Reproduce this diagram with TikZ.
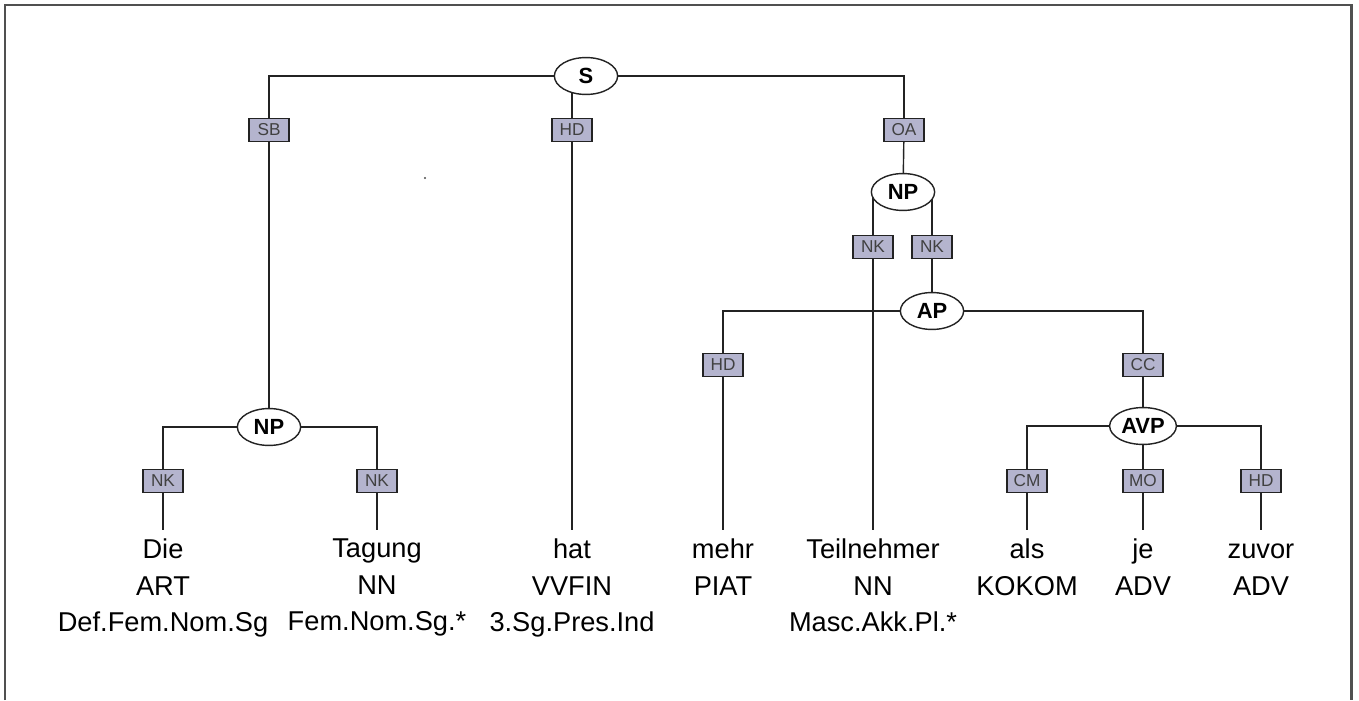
\documentclass[tikz,border=0pt]{standalone}
\usepackage{fontspec}
\setmainfont{Liberation Sans}
\usetikzlibrary{shapes,positioning,calc}
\definecolor{labelcolor}{RGB}{180,180,206}
\definecolor{bordercolor}{RGB}{35,35,35}
\definecolor{labeltextcolor}{RGB}{65,65,65}
\definecolor{framecolor}{RGB}{80,80,80}
\pgfdeclarelayer{background}
\pgfsetlayers{background,main}
\tikzset{
    catnode/.style={
        ellipse,
        draw=bordercolor,
        fill=white,
        line width=0.8pt,
        minimum width=36pt,
        minimum height=21pt,
        inner sep=0pt,
        font=\fontsize{12.5}{14}\selectfont\bfseries
    },
    widecat/.style={catnode, minimum width=38pt},
    edgelabel/.style={
        rectangle,
        draw=bordercolor,
        fill=labelcolor,
        line width=0.9pt,
        minimum width=22.8pt,
        minimum height=13pt,
        inner sep=0pt,
        text=labeltextcolor,
        font=\fontsize{9.8}{11}\selectfont
    },
    word/.style={
        anchor=north,
        align=center,
        inner sep=5pt,
        font=\fontsize{15.5}{20.8}\selectfont
    },
    branch/.style={draw=bordercolor, line width=0.8pt}
}

\begin{document}
\begin{tikzpicture}[x=0.02cm, y=-0.02cm]
    \useasboundingbox (0,0) rectangle (1359,700);
    \draw[framecolor, line width=1.7pt] (5,700) -- (5,5) -- (1351,5) -- (1351,700);
    \fill[black!70] (425,178) circle (1.2);

    % Root
    \node[catnode] (S) at (586,76) {S};
    \node[edgelabel] (sb) at (269,130) {SB};
    \node[edgelabel] (hd1) at (572,130) {HD};
    \node[edgelabel] (oa) at (904,130) {OA};

    % Subject NP
    \node[catnode] (np1) at (269,427) {NP};
    \node[edgelabel] (nk1) at (163,481) {NK};
    \node[edgelabel] (nk2) at (377,481) {NK};

    % Object NP
    \node[catnode] (np2) at (903,192) {NP};
    \node[edgelabel] (nk3) at (873,247) {NK};
    \node[edgelabel] (nk4) at (932,247) {NK};
    \node[catnode] (ap) at (932,311) {AP};
    \node[edgelabel] (hd2) at (723,365) {HD};
    \node[edgelabel] (cc) at (1143,365) {CC};
    \node[widecat] (avp) at (1143,426) {AVP};
    \node[edgelabel] (cm) at (1027,481) {CM};
    \node[edgelabel] (mo) at (1143,481) {MO};
    \node[edgelabel] (hd3) at (1261,481) {HD};

    % Words
    \node[word] (die) at (163,530) {Die\\ART\\Def.Fem.Nom.Sg};
    \node[word] (tagung) at (377,530) {Tagung\\NN\\Fem.Nom.Sg.*};
    \node[word] (hat) at (572,530) {hat\\VVFIN\\3.Sg.Pres.Ind};
    \node[word] (mehr) at (723,530) {mehr\\PIAT};
    \node[word] (teilnehmer) at (873,530) {Teilnehmer\\NN\\Masc.Akk.Pl.*};
    \node[word] (als) at (1027,530) {als\\KOKOM};
    \node[word] (je) at (1143,530) {je\\ADV};
    \node[word] (zuvor) at (1261,530) {\vphantom{h}zuvor\\ADV};

    % Branches
    \begin{pgfonlayer}{background}
        \draw[branch] (S) -| (sb);
        \draw[branch] (sb) -- (np1);
        \draw[branch] (hd1 |- S) -- (hd1);
        \draw[branch] (hd1) -- (hat);
        \draw[branch] (S) -| (oa);
        \draw[branch] (oa) -- (np2);
        \draw[branch] (np1) -| (nk1);
        \draw[branch] (nk1) -- (die);
        \draw[branch] (np1) -| (nk2);
        \draw[branch] (nk2) -- (tagung);
        \draw[branch] (nk3 |- np2) -- (nk3);
        \draw[branch] (nk3) -- (teilnehmer);
        \draw[branch] (nk4 |- np2) -- (nk4);
        \draw[branch] (nk4) -- (ap);
        \draw[branch] (ap) -| (hd2);
        \draw[branch] (hd2) -- (mehr);
        \draw[branch] (ap) -| (cc);
        \draw[branch] (cc) -- (avp);
        \draw[branch] (avp) -| (cm);
        \draw[branch] (cm) -- (als);
        \draw[branch] (mo |- avp) -- (mo);
        \draw[branch] (mo) -- (je);
        \draw[branch] (avp) -| (hd3);
        \draw[branch] (hd3) -- (zuvor);
    \end{pgfonlayer}
\end{tikzpicture}
\end{document}
